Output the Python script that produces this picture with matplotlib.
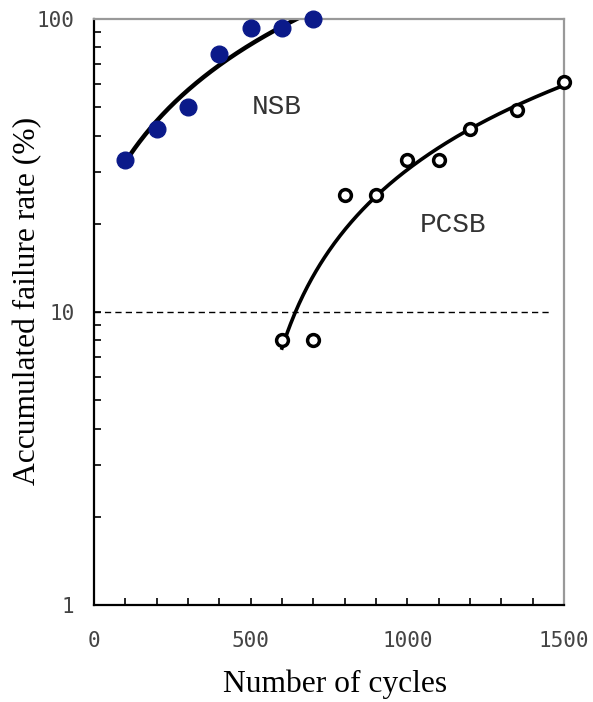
import numpy as np
import matplotlib
matplotlib.use("Agg")
import matplotlib.pyplot as plt

# data
nsb_x = [100, 200, 300, 400, 500, 600, 700]
nsb_y = [33, 42, 50, 76, 93, 93, 100]
pcsb_x = [600, 700, 800, 900, 1000, 1100, 1200, 1350, 1500]
pcsb_y = [8, 8, 25, 25, 33, 33, 42, 49, 61]

fig = plt.figure(figsize=(5.93, 7.02), dpi=100)
ax = fig.add_axes([0.1585, 0.1382, 0.7926, 0.8347])

# straight-line least squares fits, drawn on the log axis
m1, c1 = np.polyfit(nsb_x, nsb_y, 1)
xs1 = np.linspace(min(nsb_x), max(nsb_x), 200)
ax.plot(xs1, m1 * xs1 + c1, color="black", lw=3.2, zorder=2)

m2, c2 = np.polyfit(pcsb_x, pcsb_y, 1)
xs2 = np.linspace(min(pcsb_x), max(pcsb_x), 200)
ax.plot(xs2, m2 * xs2 + c2, color="black", lw=2.6, zorder=2)

ax.plot(nsb_x, nsb_y, "o", color="#0b1a8a", ms=12, zorder=3, clip_on=False)
ax.plot(pcsb_x, pcsb_y, "o", mfc="white", mec="black", mew=2.5, ms=8.5, zorder=3, clip_on=False)

ax.hlines(10, 0, 1452, colors="black", linestyles=(0, (4.5, 3)), lw=1.0)

ax.text(582, 50, "NSB", family="Liberation Mono", fontsize=20, ha="center", va="center", color="#333333")
ax.text(1145, 19.8, "PCSB", family="Liberation Mono", fontsize=20, ha="center", va="center", color="#333333")

ax.set_yscale("log")
ax.set_xlim(0, 1500)
ax.set_ylim(1, 100)
ax.set_xticks([0, 500, 1000, 1500])
ax.set_xticks(np.arange(0, 1501, 100), minor=True)
ax.set_yticks([1, 10, 100])
ax.set_yticklabels(["1", "10", "100"])
ax.tick_params(axis="both", which="both", direction="in", top=False, right=False,
               labelsize=15, labelcolor="#444444", width=1.2, length=5)
ax.tick_params(axis="x", which="major", pad=19)
ax.tick_params(axis="y", which="major", pad=14)
for lab in ax.get_xticklabels() + ax.get_yticklabels():
    lab.set_family("DejaVu Sans Mono")

for s in ["left", "bottom"]:
    ax.spines[s].set_linewidth(1.6)
    ax.spines[s].set_color("black")
for s in ["top", "right"]:
    ax.spines[s].set_linewidth(1.6)
    ax.spines[s].set_color("#999999")

fig.text(335 / 593, 1 - 692 / 702, "Number of cycles", family="Liberation Serif",
         fontsize=22.7, ha="center", va="baseline")
fig.text(28 / 593, 1 - 301 / 702, "Accumulated failure rate (%)", family="Liberation Serif",
         fontsize=22.7, ha="center", va="center", rotation=90)

fig.savefig("out.png", dpi=100)
